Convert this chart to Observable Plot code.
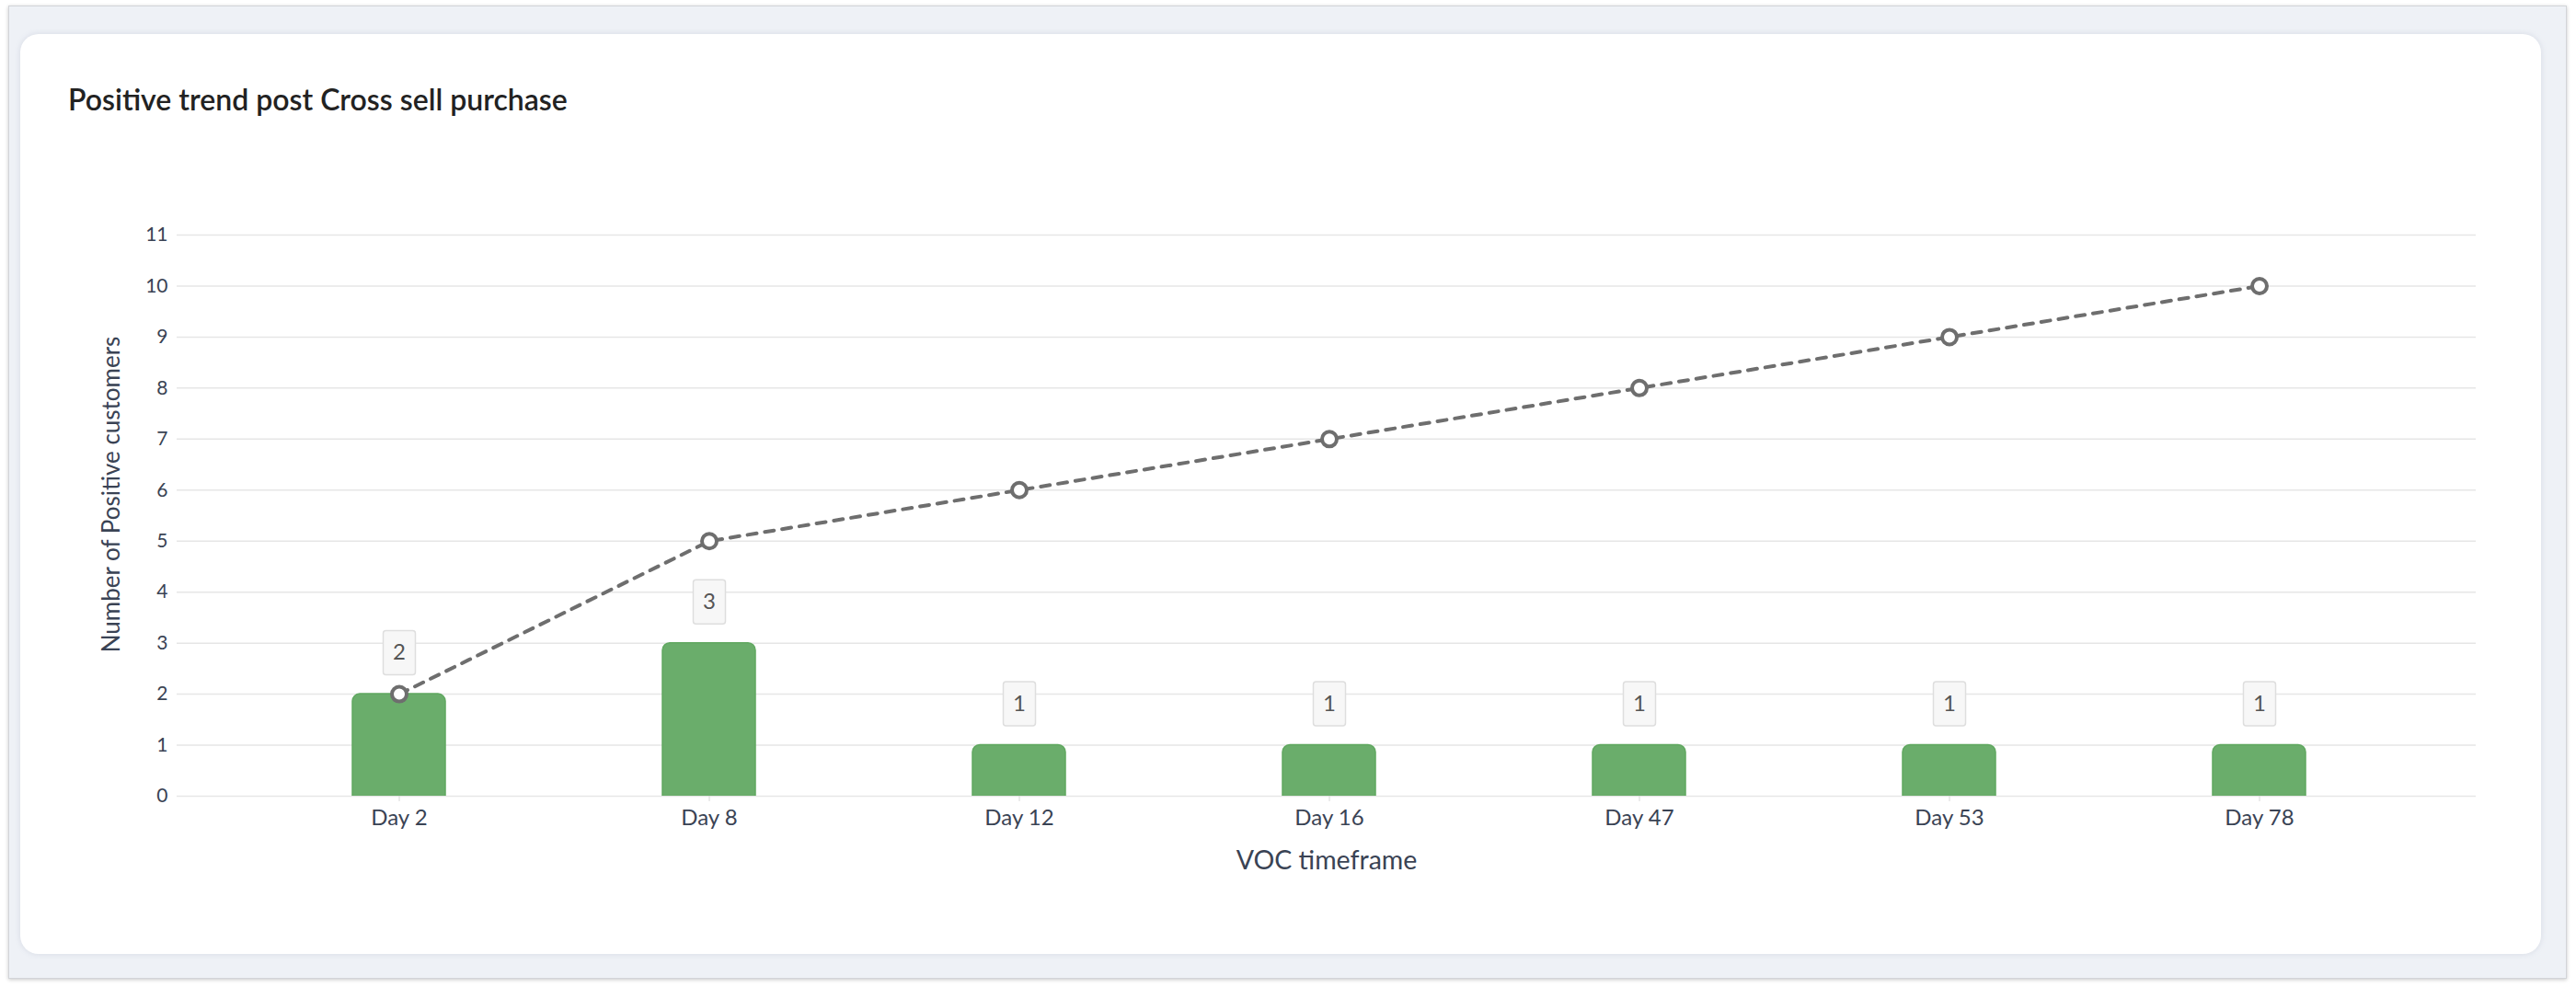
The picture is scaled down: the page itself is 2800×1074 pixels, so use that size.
<!DOCTYPE html>
<html><head><meta charset="utf-8">
<script src="https://cdn.jsdelivr.net/npm/d3@7"></script>
<script src="https://cdn.jsdelivr.net/npm/@observablehq/plot@0.6"></script>
<style>
html,body{margin:0;padding:0;background:#fff;width:2800px;height:1074px;overflow:hidden;font-family:Lato,sans-serif;}
#outer{position:absolute;left:9px;top:6px;width:2779px;height:1056px;background:#eef1f6;border:1px solid #d2d4d8;box-shadow:0 1px 4px rgba(0,0,0,0.22);}
#card{position:absolute;left:22px;top:37px;width:2740px;height:1000px;background:#fff;border-radius:20px;box-shadow:0 0 6px rgba(120,130,160,0.2);}
#title{position:absolute;left:74px;top:92px;font-size:32px;line-height:1;font-weight:600;color:#222;white-space:nowrap;}
#chart{position:absolute;left:0;top:160px;}
</style></head>
<body>
<div id="outer"></div>
<div id="card"></div>
<div id="title">Positive trend post Cross sell purchase</div>
<div id="chart"></div>
<script>
const days = ["Day 2","Day 8","Day 12","Day 16","Day 47","Day 53","Day 78"];
const positives = [2,3,1,1,1,1,1];
const cumulative = [2,5,6,7,8,9,10];
const yTicks = [0,1,2,3,4,5,6,7,8,9,10,11];
const yLabel = "Number of Positive customers";
const xLabel = "VOC timeframe";

const data = days.map((d,i)=>({day:d, value:positives[i], cum:cumulative[i]}));

const labelBox = {
  draw(ctx){
    const w=17.5,h=24,r=3;
    ctx.moveTo(-w+r,-h); ctx.lineTo(w-r,-h); ctx.arcTo(w,-h,w,-h+r,r);
    ctx.lineTo(w,h-r); ctx.arcTo(w,h,w-r,h,r);
    ctx.lineTo(-w+r,h); ctx.arcTo(-w,h,-w,h-r,r);
    ctx.lineTo(-w,-h+r); ctx.arcTo(-w,-h,-w+r,-h,r); ctx.closePath();
  }
};

const chart = Plot.plot({
  width: 2800, height: 820,
  marginLeft: 192, marginRight: 109, marginTop: 95, marginBottom: 115,
  style: {fontFamily: "Lato, sans-serif", background: "transparent", color: "#3a4354"},
  x: {type: "band", domain: days, padding: 0.7, paddingOuter: 0.557, align: 0.509, label: null},
  y: {domain: [0, 11], ticks: yTicks, label: null},
  marks: [
    Plot.gridY(yTicks, {stroke: "#e6e6e6", strokeOpacity: 1, strokeWidth: 1.5}),
    Plot.barY(data, {x: "day", y: "value", fill: "#6aad6b", stroke: "#60a860", strokeWidth: 1.5, rx: 8, insetBottom: -14, clip: true}),
    Plot.axisY(yTicks, {tickSize: 0, tickPadding: 10, fontSize: 21, fill: "#3a4354", tickFormat: d => String(d), label: null}),
    Plot.axisX({tickSize: 6, stroke: "#d8d8d8", tickPadding: 8, fontSize: 24, fill: "#3a4354", label: null}),
    Plot.text([yLabel], {frameAnchor: "left", textAnchor: "middle", rotate: -90, dx: -71, dy: -23, fontSize: 26, fill: "#3a4354"}),
    Plot.text([xLabel], {frameAnchor: "bottom", dy: 79, fontSize: 28.5, fill: "#3a4354"}),
    Plot.dot(data, {x: "day", y: "value", symbol: labelBox, dy: -45, fill: "#f7f7f7", stroke: "#dedede", strokeWidth: 1.5}),
    Plot.text(data, {x: "day", y: "value", text: d => String(d.value), dy: -45, fontSize: 24, fill: "#555"}),
    Plot.line(data, {x: "day", y: "cum", stroke: "#6e6e6e", strokeWidth: 4, strokeDasharray: "10,9"}),
    Plot.dot(data, {x: "day", y: "cum", r: 8, fill: "#fff", stroke: "#6e6e6e", strokeWidth: 4})
  ]
});
document.getElementById("chart").appendChild(chart);
</script>
</body></html>
